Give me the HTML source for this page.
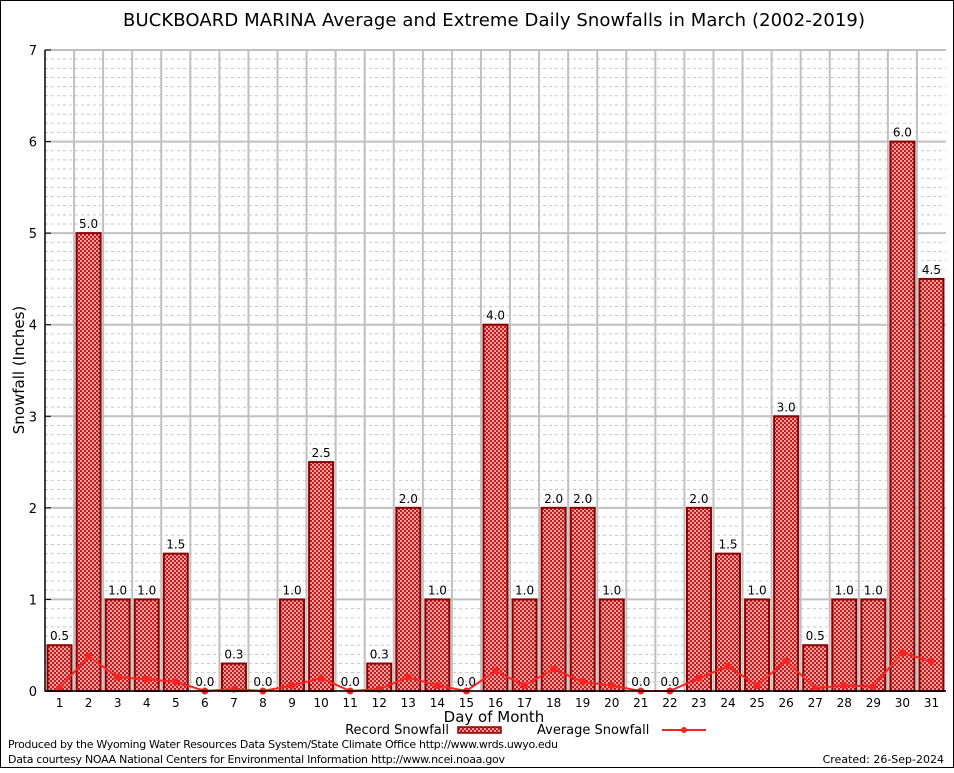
<!DOCTYPE html>
<html><head><meta charset="utf-8"><style>
body{margin:0;background:#fff;}
svg text{font-family:"DejaVu Sans","Liberation Sans",sans-serif;}
</style></head><body>
<svg id="chart" width="954" height="768" xmlns="http://www.w3.org/2000/svg">
<defs><pattern id="hatch" width="4" height="4" patternUnits="userSpaceOnUse">
<rect width="4" height="4" fill="#c41a1a"/><rect width="2" height="2" fill="#e8a0a0"/><rect x="2" y="2" width="2" height="2" fill="#e8a0a0"/></pattern></defs>
<rect x="0.5" y="0.5" width="953" height="767" fill="#fff" stroke="#000"/>
<text x="494" y="26" font-size="18" text-anchor="middle" textLength="742">BUCKBOARD MARINA Average and Extreme Daily Snowfalls in March (2002-2019)</text>
<g id="grid"></g><g id="bars"></g><g id="line"></g><g id="axes"></g>
<text transform="translate(24,370) rotate(-90)" font-size="15" text-anchor="middle">Snowfall (Inches)</text>
<text x="494" y="722" font-size="15" text-anchor="middle">Day of Month</text>
<g><text x="449" y="734" font-size="13" text-anchor="end">Record Snowfall</text><rect x="458" y="727" width="43" height="6" fill="url(#hatch)" stroke="#8b0000" stroke-width="1.5"/></g>
<g><text x="537" y="734" font-size="13">Average Snowfall</text><line x1="662" y1="730" x2="706" y2="730" stroke="#ff2020" stroke-width="2"/><circle cx="684" cy="730" r="3" fill="#ff2020"/></g>
<text x="8" y="748" font-size="11" textLength="550">Produced by the Wyoming Water Resources Data System/State Climate Office http://www.wrds.uwyo.edu</text>
<text x="8" y="763" font-size="11" textLength="497">Data courtesy NOAA National Centers for Environmental Information http://www.ncei.noaa.gov</text>
<text x="944" y="763" font-size="11" text-anchor="end">Created:  26-Sep-2024</text>
</svg>
<script>
const days=[1,2,3,4,5,6,7,8,9,10,11,12,13,14,15,16,17,18,19,20,21,22,23,24,25,26,27,28,29,30,31];
const recordSnow=[0.5,5.0,1.0,1.0,1.5,0.0,0.3,0.0,1.0,2.5,0.0,0.3,2.0,1.0,0.0,4.0,1.0,2.0,2.0,1.0,0.0,0.0,2.0,1.5,1.0,3.0,0.5,1.0,1.0,6.0,4.5];
const avgSnow=[0.03,0.38,0.15,0.13,0.1,0,0.02,0,0.06,0.14,0,0.02,0.15,0.06,0,0.22,0.06,0.24,0.1,0.06,0,0,0.14,0.27,0.06,0.33,0.03,0.06,0.05,0.42,0.32];
const yTicks=[0,1,2,3,4,5,6,7];
const L=45,R=946,T=50,B=691,YMAX=7;
const NS="http://www.w3.org/2000/svg";
const step=(R-L)/days.length;
const x=i=>L+step*(i+0.5);
const y=v=>B-(v/YMAX)*(B-T);
function mk(tag,attrs,parent,txt){const e=document.createElementNS(NS,tag);for(const k in attrs)e.setAttribute(k,attrs[k]);if(txt!==undefined)e.textContent=txt;document.getElementById(parent).appendChild(e);return e;}
for(let k=1;k<YMAX*10;k++){if(k%10===0)continue;const g=mk('line',{x1:L,x2:R,y1:y(k/10),y2:y(k/10),stroke:'#c8c8c8','stroke-dasharray':'3,3','stroke-width':1},'grid');

}
yTicks.forEach(t=>{const g=mk('line',{x1:L,x2:R,y1:y(t),y2:y(t),stroke:'#c0c0c0','stroke-width':2},'grid');


const lb=mk('text',{x:L-8,y:y(t)+5,'font-size':13,'text-anchor':'end','font-family':'Liberation Serif,serif'},'axes',String(t));


const tk=mk('line',{x1:L,x2:L+6,y1:y(t),y2:y(t),stroke:'#000'},'axes');

});
for(let i=1;i<days.length;i++){const v=mk('line',{x1:L+step*i,x2:L+step*i,y1:T,y2:B,stroke:'#c0c0c0','stroke-width':2},'grid');

}
days.forEach((d,i)=>{const v=recordSnow[i];
const b=mk('rect',{x:x(i)-12,y:y(v),width:24,height:B-y(v),fill:'url(#hatch)',stroke:'#8b0000','stroke-width':2},'bars');


const t=mk('text',{x:x(i),y:y(v)-5,'font-size':12,'text-anchor':'middle'},'bars',v.toFixed(1));


const xl=mk('text',{x:x(i),y:B+16,'font-size':12,'text-anchor':'middle','font-family':'Liberation Serif,serif'},'axes',String(d));

});
const pl=mk('polyline',{points:avgSnow.map((v,i)=>x(i)+','+y(v)).join(' '),fill:'none',stroke:'#ff2020','stroke-width':2},'line');


avgSnow.forEach((v,i)=>{const c=mk('circle',{cx:x(i),cy:y(v),r:3.5,fill:'#ff2020'},'line');

});
const ax=mk('path',{d:`M${L},${T}V${B}H${R}`,fill:'none',stroke:'#000','stroke-width':1.5},'axes');


</script>
</body></html>
